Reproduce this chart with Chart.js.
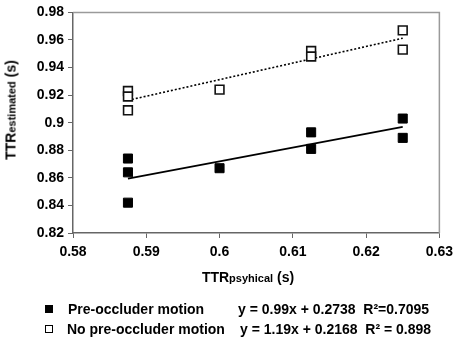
<!DOCTYPE html>
<html>
<head>
<meta charset="utf-8">
<script src="https://cdn.jsdelivr.net/npm/chart.js@4"></script>
<style>
  body { margin: 0; background: #fff; }
  #wrap { position: relative; width: 459px; height: 340px; font-family: "Liberation Sans", Arial, sans-serif; font-weight: bold; color: #000; }
  #wrap canvas { position: absolute; left: 0; top: 0; }
  .lbl { position: absolute; white-space: nowrap; font-size: 14px; line-height: 16px; }
  .sub { font-size: 11px; }
  .sq { position: absolute; width: 8px; height: 8px; box-sizing: border-box; border: 1.5px solid #000; }
</style>
</head>
<body>
<div id="wrap">
  <canvas id="chart" width="459" height="340"></canvas>
  <div class="lbl" style="left:11px; top:110px; transform: translate(-50%,-50%) rotate(-90deg);">TTR<span class="sub">estimated</span> (s)</div>
  <div class="lbl" style="left:248px; top:277px; transform: translate(-50%,-50%);">TTR<span class="sub">psyhical</span> (s)</div>
  <div class="sq" style="left:45px; top:305px; background:#000;"></div>
  <div class="lbl" style="left:68px; top:301px;">Pre-occluder motion</div>
  <div class="lbl" style="left:238px; top:301px;">y = 0.99x + 0.2738&nbsp; R²=0.7095</div>
  <div class="sq" style="left:45px; top:325px; background:#fff;"></div>
  <div class="lbl" style="left:67px; top:321px;">No pre-occluder motion</div>
  <div class="lbl" style="left:240px; top:321px;">y = 1.19x + 0.2168&nbsp; R² = 0.898</div>
</div>
<script>
// TTR physical (x) per trial group
let xVals = [0.5875, 0.5875, 0.5875, 0.6, 0.6125, 0.6125, 0.625, 0.625]
// estimated TTR, pre-occluder motion (filled squares)
let yPre = [0.874, 0.864, 0.842, 0.867, 0.893, 0.881, 0.903, 0.889]
// estimated TTR, no pre-occluder motion (open squares)
let yNoPre = [0.923, 0.919, 0.909, 0.924, 0.952, 0.948, 0.967, 0.953]

let yTicks = [0.82, 0.84, 0.86, 0.88, 0.9, 0.92, 0.94, 0.96, 0.98]
let xTicks = [0.58, 0.59, 0.6, 0.61, 0.62, 0.63]

function toPoints(xs, ys) {
    return xs.map((x, i) => ({ x: x, y: ys[i] }))
}

// least squares trend line between min and max x
function trend(xs, ys) {
    let n = xs.length
    let mx = xs.reduce((a, b) => a + b, 0) / n
    let my = ys.reduce((a, b) => a + b, 0) / n
    let sxy = 0, sxx = 0
    for (let i = 0; i < n; i++) {
        sxy += (xs[i] - mx) * (ys[i] - my)
        sxx += (xs[i] - mx) * (xs[i] - mx)
    }
    let b = sxy / sxx
    let a = my - b * mx
    let x0 = Math.min(...xs), x1 = Math.max(...xs)
    return [{ x: x0, y: a + b * x0 }, { x: x1, y: a + b * x1 }]
}

let fmt = v => String(Number(v.toFixed(2)))

// grey frame on top and right of plot area
const framePlugin = {
    id: "frame",
    beforeDatasetsDraw(chart) {
        let ca = chart.chartArea
        let c = chart.ctx
        c.save()
        c.strokeStyle = "#9a9a9a"
        c.lineWidth = 1.5
        c.beginPath()
        c.moveTo(ca.left, ca.top)
        c.lineTo(ca.right, ca.top)
        c.lineTo(ca.right, ca.bottom)
        c.stroke()
        c.restore()
    }
}

let ctx = document.getElementById("chart").getContext("2d")
let myChart = new Chart(ctx, {
    type: "scatter",
    data: {
        datasets: [
            {
                data: toPoints(xVals, yPre),
                pointStyle: "rect",
                pointRadius: 6.4,
                backgroundColor: "#000",
                borderColor: "#000",
                borderWidth: 1,
                order: 1
            },
            {
                data: toPoints(xVals, yNoPre),
                pointStyle: "rect",
                pointRadius: 6.2,
                backgroundColor: "#fff",
                borderColor: "#111",
                borderWidth: 1.6,
                order: 1
            },
            {
                type: "line",
                data: trend(xVals, yPre),
                borderColor: "#000",
                borderWidth: 1.8,
                pointRadius: 0,
                fill: false,
                order: 2
            },
            {
                type: "line",
                data: trend(xVals, yNoPre),
                borderColor: "#000",
                borderWidth: 1.6,
                borderDash: [2, 2],
                pointRadius: 0,
                fill: false,
                order: 2
            }
        ]
    },
    options: {
        responsive: false,
        animation: false,
        devicePixelRatio: 1,
        layout: { padding: { left: 0, right: 16, top: 9, bottom: 0 } },
        plugins: {
            legend: { display: false },
            tooltip: { enabled: false }
        },
        scales: {
            x: {
                type: "linear",
                min: xTicks[0],
                max: xTicks[xTicks.length - 1],
                afterBuildTicks: s => { s.ticks = xTicks.map(v => ({ value: v })) },
                afterFit: s => { s.height = 107 },
                border: { color: "#666", width: 1.5 },
                grid: { drawOnChartArea: false, drawTicks: true, tickLength: 5, color: "#666" },
                ticks: {
                    padding: 6,
                    color: "#000",
                    font: { family: "'Liberation Sans', Arial, sans-serif", size: 14, weight: "bold" },
                    callback: v => fmt(v)
                }
            },
            y: {
                type: "linear",
                min: yTicks[0],
                max: yTicks[yTicks.length - 1],
                afterBuildTicks: s => { s.ticks = yTicks.map(v => ({ value: v })) },
                afterFit: s => { s.width = 73 },
                border: { color: "#666", width: 1.5 },
                grid: { drawOnChartArea: false, drawTicks: true, tickLength: 5, color: "#666" },
                ticks: {
                    padding: 4,
                    color: "#000",
                    font: { family: "'Liberation Sans', Arial, sans-serif", size: 14, weight: "bold" },
                    callback: v => fmt(v)
                }
            }
        }
    },
    plugins: [framePlugin]
})
</script>
</body>
</html>
